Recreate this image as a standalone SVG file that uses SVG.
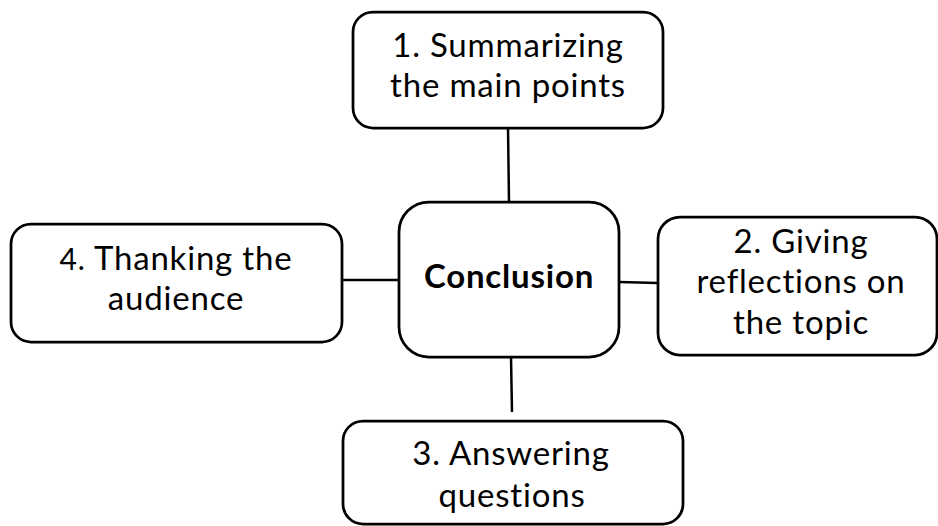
<svg xmlns="http://www.w3.org/2000/svg" width="938" height="526" viewBox="0 0 938 526">
<style>
.box{fill:#fff;stroke:#000;stroke-width:2.75}
.lbl{font-family:Lato,"Open Sans","Liberation Sans",sans-serif;font-size:33px;letter-spacing:0.8px;fill:#000;text-anchor:middle}
.bold{font-weight:bold}
.conn line{stroke:#000;stroke-width:2.5}
</style>
<rect width="938" height="526" fill="#fff"/>
<g class="conn" id="connectors">
<line x1="508" y1="128" x2="509" y2="202"/>
<line x1="511" y1="357" x2="512" y2="412"/>
<line x1="342" y1="280" x2="399" y2="280"/>
<line x1="619" y1="282" x2="658" y2="283"/>
</g>
<g id="n1">
<rect class="box" x="353" y="12" width="310" height="116" rx="20"/>
<text class="lbl" x="508" y="57">1. Summarizing</text>
<text class="lbl" x="508" y="97">the main points</text>
</g>
<g id="center">
<rect class="box" x="399" y="202" width="220" height="155" rx="30"/>
<text class="lbl bold" x="509" y="288">Conclusion</text>
</g>
<g id="n2">
<rect class="box" x="658" y="217" width="279" height="138" rx="22"/>
<text class="lbl" x="801" y="253">2. Giving</text>
<text class="lbl" x="801" y="293">reflections on</text>
<text class="lbl" x="801" y="334">the topic</text>
</g>
<g id="n4">
<rect class="box" x="11" y="224" width="331" height="118" rx="20"/>
<text class="lbl" x="176" y="270"><tspan font-size="30">4.</tspan> Thanking the</text>
<text class="lbl" x="176" y="310">audience</text>
</g>
<g id="n3">
<rect class="box" x="343" y="421" width="340" height="103" rx="20"/>
<text class="lbl" x="511" y="465">3. Answering</text>
<text class="lbl" x="512" y="507">questions</text>
</g>
</svg>
